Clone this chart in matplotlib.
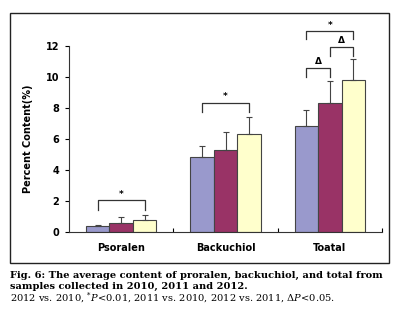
import matplotlib
matplotlib.use("Agg")
import matplotlib.pyplot as plt
import numpy as np
from matplotlib.patches import Rectangle

plt.rcParams["mathtext.fontset"] = "custom"
plt.rcParams["mathtext.rm"] = "DejaVu Serif"
plt.rcParams["mathtext.it"] = "DejaVu Serif:italic"

categories = ["Psoralen", "Backuchiol", "Toatal"]
years = ["2010", "2011", "2012"]
means = {
    "2010": [0.38, 4.82, 6.85],
    "2011": [0.55, 5.32, 8.30],
    "2012": [0.75, 6.32, 9.80],
}
errs = {
    "2010": [0.04, 0.70, 1.05],
    "2011": [0.40, 1.12, 1.45],
    "2012": [0.35, 1.08, 1.35],
}
colors = {"2010": "#9999cc", "2011": "#993366", "2012": "#ffffcc"}
yticks = [0, 2, 4, 6, 8, 10, 12]

# significance brackets: (category index, bar i, bar j, top y, leg bottom y, label)
brackets = [
    (0, 0, 2, 2.05, 1.45, "*"),
    (1, 0, 2, 8.35, 7.75, "*"),
    (2, 0, 2, 12.95, 12.45, "*"),
    (2, 0, 1, 10.6, 10.0, "\u0394"),
    (2, 1, 2, 11.95, 11.35, "\u0394"),
]

fig = plt.figure(figsize=(4.01, 3.22), dpi=100)
fig.patches.append(Rectangle((0.025, 0.183), 0.945, 0.777, transform=fig.transFigure,
                             fill=False, edgecolor="#222222", linewidth=1.0))
ax = fig.add_axes([0.172, 0.2795, 0.781, 0.5776])

bw = 0.225
x = np.arange(len(categories))
offsets = [-bw, 0, bw]
for k, yr in enumerate(years):
    ax.bar(x + offsets[k], means[yr], width=bw, color=colors[yr],
           edgecolor="#444444", linewidth=0.8, zorder=2)
    ax.errorbar(x + offsets[k], means[yr], yerr=[np.zeros(3), errs[yr]], fmt="none",
                ecolor="#444444", elinewidth=0.8, capsize=2.5, capthick=0.8, zorder=3)

for ci, i, j, top, bot, lab in brackets:
    x1 = ci + offsets[i]
    x2 = ci + offsets[j]
    ax.plot([x1, x1, x2, x2], [bot, top, top, bot], color="#333333", lw=0.9,
            clip_on=False, zorder=4)
    ax.text((x1 + x2) / 2, top + 0.1, lab, ha="center", va="bottom",
            fontsize=6.5, fontweight="bold", clip_on=False)

ax.set_xlim(-0.5, 2.5)
ax.set_ylim(0, 12)
ax.set_yticks(yticks)
ax.set_yticklabels([str(t) for t in yticks], fontsize=7, fontweight="bold")
ax.tick_params(axis="y", direction="out", length=3, width=0.8, pad=4)
ax.set_xticks([0.5, 1.5, 2.5])
ax.set_xticklabels([])
ax.tick_params(axis="x", direction="in", length=3, width=0.8)
for c, name in enumerate(categories):
    ax.text(c, -1.05, name, ha="center", va="center", fontsize=7, fontweight="bold")
ax.spines["top"].set_visible(False)
ax.spines["right"].set_visible(False)
ax.spines["left"].set_color("#333333")
ax.spines["bottom"].set_color("#333333")
ax.set_ylabel("Percent Content(%)", fontsize=7, fontweight="bold", labelpad=9)

cap_font = "DejaVu Serif"
fs = 7.15
fig.text(0.025, 0.143, "Fig. 6: The average content of proralen, backuchiol, and total from",
         fontsize=fs, fontweight="bold", family=cap_font, va="center")
fig.text(0.025, 0.109, "samples collected in 2010, 2011 and 2012.",
         fontsize=fs, fontweight="bold", family=cap_font, va="center")
fig.text(0.025, 0.072,
         r"2012 vs. 2010, $^{*}\mathit{P}$<0.01, 2011 vs. 2010, 2012 vs. 2011, $\Delta\mathit{P}$<0.05.",
         fontsize=fs, family=cap_font, va="center")

fig.savefig("out.png", dpi=100)
